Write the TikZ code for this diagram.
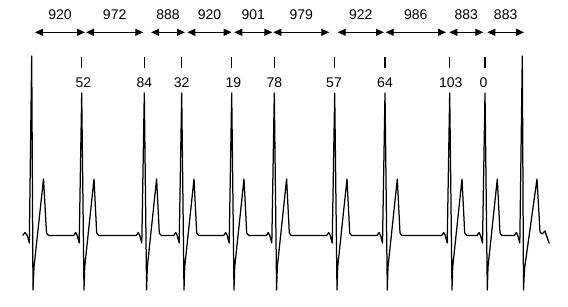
\documentclass[tikz,border=0pt]{standalone}
\usepackage{fontspec}
\setmainfont{Liberation Sans}
\usetikzlibrary{arrows.meta}
\begin{document}
\begin{tikzpicture}[x=1pt,y=-1pt,
  trace/.style={line width=1.25pt,line join=round,black},
  tickmark/.style={line width=1.5pt},
  dim/.style={line width=1.2pt,{Triangle[length=8pt,width=7pt]}-{Triangle[length=8pt,width=7pt]}},
  dimlabel/.style={font=\fontsize{14}{16}\selectfont,yshift=17.3pt,inner sep=0pt},
  lbl/.style={font=\fontsize{14}{16}\selectfont,inner sep=0pt}]
\useasboundingbox[fill=white] (0,0) rectangle (568,306);
% ECG trace
\draw[trace] (22.7,235.5) -- (25,232.5) -- (27.3,235.5) -- (29.3,243) -- (31.7,56) -- (33,290) -- (34,267) -- (43.5,179) -- (46.5,233) -- (48.5,235.5)
  \foreach \r in {81.7,144.3,181.7,231.7,274.3,334.7,385,449.7,485}{
    -- ({\r-8},235.5) -- ({\r-6},232.5) -- ({\r-4.5},235.5) -- ({\r-2.5},243) -- (\r,93) -- ({\r+2.3},290) -- ({\r+3},267) -- ({\r+12.3},179) -- ({\r+15},233) -- ({\r+17},235.5)}
  -- (514.3,235.5) -- (516.3,232.5) -- (517.8,235.5) -- (519.8,243) -- (522.3,56) -- (523.5,290) -- (524.5,269) -- (537,179) -- (540,232) -- (542,234) -- (545,231) -- (547.3,238) -- (549.3,243.5);
% ticks and beat labels
\foreach \r/\x/\v/\n in {81.7/83.3/52/b2,144.3/144.3/84/b3,181.7/181.7/32/b4,231.7/233.3/19/b5,274.3/274.3/78/b6,334.7/334/57/b7,385/385/64/b8,449.7/450.7/103/b9,485/483.5/0/b10}{
  \coordinate (\n top) at (\r,57);
  \coordinate (\n bot) at (\r,68);
  \draw[tickmark] (\n top) -- (\n bot);
  \node[lbl] (\n lab) at (\x,83) {\v};
}
% interval arrows
\foreach \a/\b/\v/\n in {35/85/920/i1,86/143.3/972/i2,151/185/888/i3,187.3/231.7/920/i4,234.3/272.3/901/i5,273.3/329.3/979/i6,337.7/384/922/i7,385.7/446/986/i8,449.3/483.3/883/i9,487.3/524/883/i10}{
  \coordinate (\n l) at (\a,32.3);
  \coordinate (\n r) at (\b,32.3);
  \draw[dim] (\n l) -- node[midway,dimlabel] (\n lab) {\v} (\n r);
}
\end{tikzpicture}
\end{document}
